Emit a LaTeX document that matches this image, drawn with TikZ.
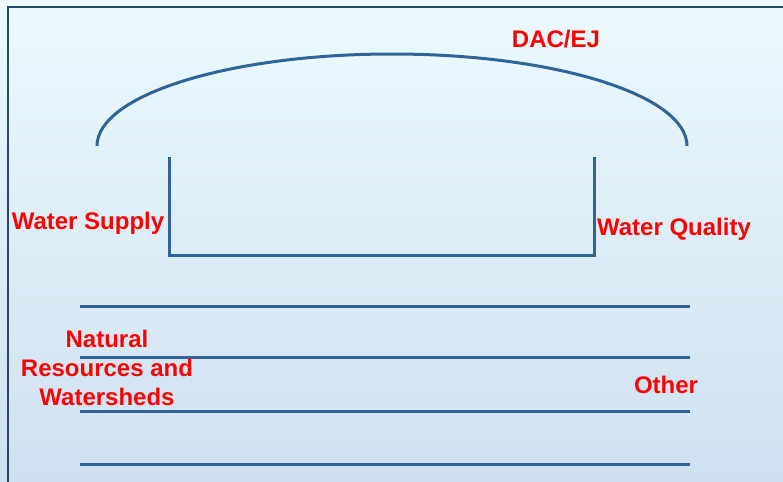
\documentclass[tikz,border=0pt]{standalone}
\usepackage{fontspec}
\setmainfont{Liberation Sans}
\definecolor{framedark}{RGB}{40,72,104}
\definecolor{linkblue}{RGB}{48,100,152}
\definecolor{bgtop}{RGB}{235,250,254}
\definecolor{bgbottom}{RGB}{207,224,240}
\definecolor{labelred}{RGB}{255,0,0}
\tikzset{
  bluestroke/.style={line width=1.5pt, color=linkblue},
  redlabel/.style={inner sep=0pt, text=labelred, font=\bfseries\fontsize{12}{14.3}\selectfont, align=center}
}

\begin{document}
\begin{tikzpicture}[x=0.5pt,y=-0.5pt]
		%%%%% START %%%%%
		
		\shade[top color=bgtop, bottom color=bgbottom] (0,0) rectangle (783,482);
		\useasboundingbox (0,0) rectangle (783,482);
		
		\draw[line width=1.4pt, color=framedark] (8,490) -- (8,7) -- (790,7);
		
		\draw[bluestroke] (97,146) arc (180:360:295 and 92);
		
		\draw[bluestroke] (169,157) -- (169,255) -- (594,255) -- (594,157);
		
		\draw[bluestroke] (80,306) -- (690,306);
		\draw[bluestroke] (80,357) -- (690,357);
		\draw[bluestroke] (80,411) -- (690,411);
		\draw[bluestroke] (80,464) -- (690,464);
		
		\node[redlabel, anchor=base] (dacej) at (556,47) {DAC/EJ};
		\node[redlabel, anchor=base] (supply) at (88,229) {Water Supply};
		\node[redlabel, anchor=base] (quality) at (674,235) {Water Quality};
		\node[redlabel] (natural) at (107,368) {Natural\\Resources and\\Watersheds};
		\node[redlabel, anchor=base] (other) at (666,393) {Other};
		
		%%%%% END %%%%%
	\end{tikzpicture}
\end{document}
